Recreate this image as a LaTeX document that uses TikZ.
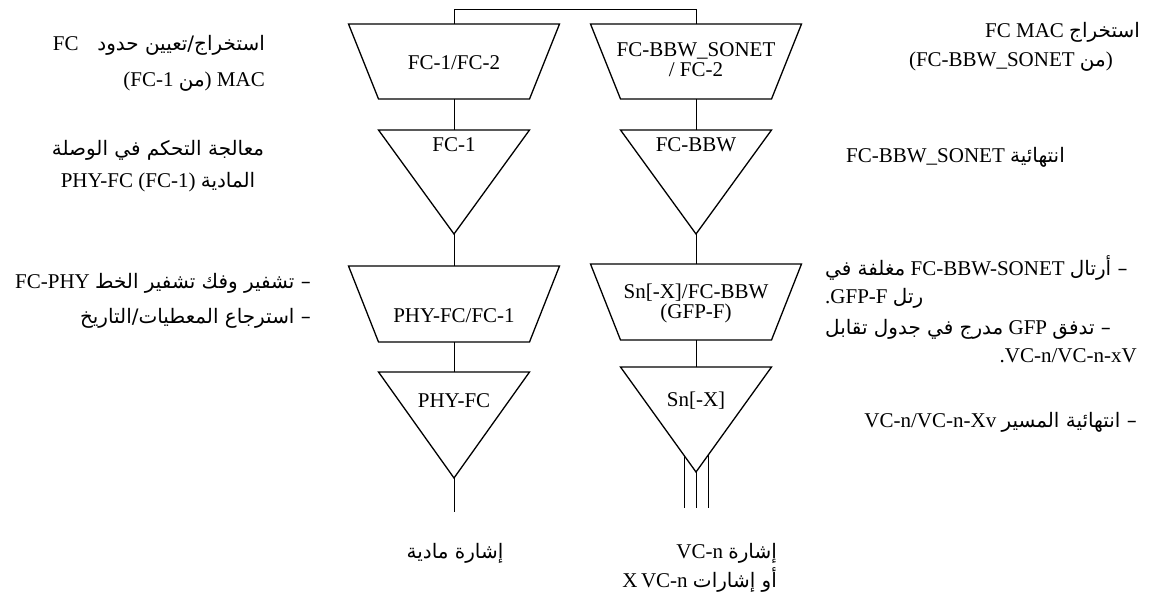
\documentclass[tikz,border=0pt]{standalone}
\usepackage{fontspec}
\setmainfont{Liberation Serif}
\newfontfamily\arabicfont[Script=Arabic,Scale=0.95]{DejaVu Sans}
\TeXXeTstate=1
\newcommand\arx[1]{{\arabicfont\beginR #1\endR}}
\begin{document}
\begin{tikzpicture}[x=1pt,y=-1pt,
  shapeline/.style={line width=1.3pt,line join=miter},
  conn/.style={line width=0.7pt},
  lbl/.style={font=\fontsize{21}{21}\selectfont,inner sep=0pt},
  txt/.style={font=\fontsize{21}{24}\selectfont,inner sep=0pt}]
\fill[white] (0,0) rectangle (1158,604);
\useasboundingbox (0,0) rectangle (1158,604);
% ---- shape outlines ----
% left column
\draw[shapeline] (348.5,24) -- (559.5,24) -- (529.5,99) -- (378.5,99) -- cycle;
\draw[shapeline] (378.5,130) -- (529.5,130) -- (454,234) -- cycle;
\draw[shapeline] (348.5,266) -- (559.5,266) -- (529.5,342) -- (378.5,342) -- cycle;
\draw[shapeline] (378.5,372) -- (529.5,372) -- (454,478) -- cycle;
% right column
\draw[shapeline] (590.5,24) -- (801.5,24) -- (771.5,99) -- (620.5,99) -- cycle;
\draw[shapeline] (620.5,130) -- (771.5,130) -- (696,234) -- cycle;
\draw[shapeline] (590.5,264) -- (801.5,264) -- (771.5,340) -- (620.5,340) -- cycle;
\draw[shapeline] (620.5,367) -- (771.5,367) -- (696,472) -- cycle;
% ---- anchor coordinates ----
\coordinate (T1L-n) at (454,24);  \coordinate (T1L-s) at (454,99);
\coordinate (V1L-n) at (454,130); \coordinate (V1L-s) at (454,234);
\coordinate (T2L-n) at (454,266); \coordinate (T2L-s) at (454,342);
\coordinate (V2L-n) at (454,372); \coordinate (V2L-s) at (454,478);
\coordinate (endL) at (454,512);
\coordinate (T1R-n) at (696,24);  \coordinate (T1R-s) at (696,99);
\coordinate (V1R-n) at (696,130); \coordinate (V1R-s) at (696,234);
\coordinate (T2R-n) at (696,264); \coordinate (T2R-s) at (696,340);
\coordinate (V2R-n) at (696,367); \coordinate (V2R-s) at (696,472);
\coordinate (endR) at (696,508);
\coordinate (V2R-a) at (684,455.4); \coordinate (endRa) at (684,508);
\coordinate (V2R-b) at (708,455.4); \coordinate (endRb) at (708,508);
% ---- connectors ----
\draw[conn] (T1L-n) -- ++(0,-15) -| (T1R-n);
\draw[conn] (T1L-s) -- (V1L-n);
\draw[conn] (V1L-s) -- (T2L-n);
\draw[conn] (T2L-s) -- (V2L-n);
\draw[conn] (V2L-s) -- (endL);
\draw[conn] (T1R-s) -- (V1R-n);
\draw[conn] (V1R-s) -- (T2R-n);
\draw[conn] (T2R-s) -- (V2R-n);
\draw[conn] (V2R-s) -- (endR);
\draw[conn] (V2R-a) -- (endRa);
\draw[conn] (V2R-b) -- (endRb);
% ---- labels in shapes ----
\node[lbl,anchor=base] (t1l) at (454,70) {FC-1/FC-2};
\node[lbl,anchor=base] (t1r-a) at (696,57) {FC-BBW\_SONET};
\node[lbl,anchor=base] (t1r-b) at (696,77) {/ FC-2};
\node[lbl,anchor=base] (v1l) at (454,152) {FC-1};
\node[lbl,anchor=base] (v1r) at (696,152) {FC-BBW};
\node[lbl,anchor=base] (t2l) at (454,322) {PHY-FC/FC-1};
\node[lbl,anchor=base] (t2r-a) at (696,298) {Sn[-X]/FC-BBW};
\node[lbl,anchor=base] (t2r-b) at (696,318) {(GFP-F)};
\node[lbl,anchor=base] (v2l) at (454,407) {PHY-FC};
\node[lbl,anchor=base] (v2r) at (696,406) {Sn[-X]};
% ---- side texts ----
\node[txt,anchor=base east] (l1a) at (265,51) {FC\hspace{0.9em}\arx{استخراج/تعيين حدود}};
\node[txt,anchor=base east] (l1b) at (265,87) {(FC-1 \arx{من}) MAC};
\node[txt,anchor=base] (l2a) at (158,156) {\arx{معالجة التحكم في الوصلة}};
\node[txt,anchor=base] (l2b) at (158,187) {PHY-FC (FC-1) \arx{المادية}};
\node[txt,anchor=base east] (l3a) at (311,288) {FC-PHY \arx{– تشفير وفك تشفير الخط}};
\node[txt,anchor=base east] (l3b) at (311,323) {\arx{– استرجاع المعطيات/التاريخ}};
\node[txt,anchor=base east] (r1a) at (1140,38) {FC MAC \arx{استخراج}};
\node[txt,anchor=base east] (r1b) at (1113,67) {(FC-BBW\_SONET \arx{من})};
\node[txt,anchor=base east] (r2) at (1065,163) {FC-BBW\_SONET \arx{انتهائية}};
\node[txt,anchor=base west,text width=315pt,align=justify] (r3a) at (825,275) {\arx{مغلفة في} FC-BBW-SONET \arx{– أرتال}};
\node[txt,anchor=base west] (r3b) at (825,303) {.GFP-F \arx{رتل}};
\node[txt,anchor=base west,text width=315pt,align=justify] (r3c) at (825,334) {\arx{مدرج في جدول تقابل} GFP \arx{– تدفق}};
\node[txt,anchor=base east] (r3d) at (1137,362) {.VC-n/VC-n-xV};
\node[txt,anchor=base east] (r4) at (1137,427) {VC-n/VC-n-Xv \arx{– انتهائية المسير}};
\node[txt,anchor=base] (b1) at (455,558) {\arx{إشارة مادية}};
\node[txt,anchor=base east] (b2) at (777,558) {VC-n \arx{إشارة}};
\node[txt,anchor=base east] (b3) at (777,587) {X\,VC-n \arx{أو إشارات}};
\end{tikzpicture}
\end{document}
